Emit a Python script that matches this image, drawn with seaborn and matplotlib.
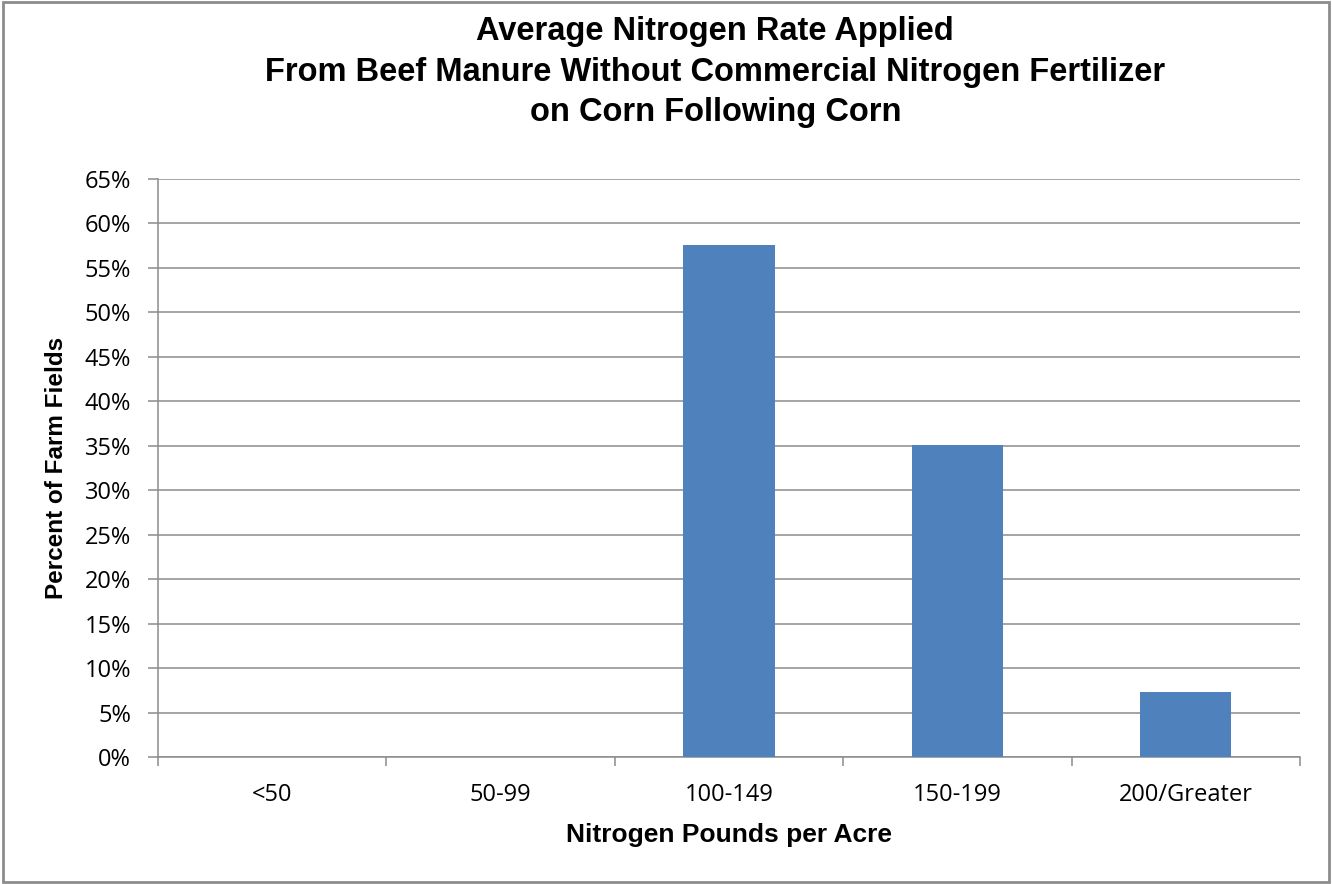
import numpy as np
import pandas as pd
import matplotlib
matplotlib.use("Agg")
import matplotlib.pyplot as plt
from matplotlib.ticker import PercentFormatter, FixedLocator
import seaborn as sns

# data
categories = ['<50', '50-99', '100-149', '150-199', '200/Greater']
percent_fields = [0.0, 0.0, 57.6, 35.1, 7.3]

df = pd.DataFrame({'rate': categories, 'pct': percent_fields})

sns.set_style('white')
plt.rcParams['font.family'] = ['Liberation Sans', 'DejaVu Sans']
plt.rcParams['text.color'] = 'black'
plt.rcParams['axes.labelcolor'] = 'black'
plt.rcParams['xtick.color'] = 'black'
plt.rcParams['ytick.color'] = 'black'

fig = plt.figure(figsize=(13.32, 8.84), dpi=100)
ax = fig.add_axes([158 / 1332, 1 - 757 / 884, 1142 / 1332, 578 / 884])

sns.barplot(data=df, x='rate', y='pct', color='#4F81BD', saturation=1,
            width=0.4, linewidth=0, edgecolor='none', ax=ax, zorder=3)

ax.set_ylim(0, 65)
ax.set_xlim(-0.5, 4.5)
ax.set_yticks(np.arange(0, 66, 5))
ax.yaxis.set_major_formatter(PercentFormatter(decimals=0))
ax.yaxis.grid(True, color='#8c8c8c', linewidth=1.1, zorder=0)
ax.set_axisbelow(True)

for s in ['top', 'right']:
    ax.spines[s].set_visible(False)
for s in ['bottom', 'left']:
    ax.spines[s].set_visible(True)
    ax.spines[s].set_color('#8c8c8c')
    ax.spines[s].set_linewidth(1.1)

# tick marks between categories on x, short outward marks on y
ax.xaxis.set_minor_locator(FixedLocator(np.arange(-0.5, 5, 1)))
ax.tick_params(axis='x', which='major', bottom=True, length=0, pad=19, labelsize=17)
ax.tick_params(axis='x', which='minor', bottom=True, length=6.5, color='#8c8c8c',
               width=1.1, direction='out')
ax.tick_params(axis='y', left=True, length=7, color='#8c8c8c', width=1.1,
               direction='out', labelsize=17, pad=12.5)
for lbl in ax.get_xticklabels() + ax.get_yticklabels():
    lbl.set_family(['Open Sans', 'DejaVu Sans'])
    lbl.set_color('black')

ax.set_xlabel('Nitrogen Pounds per Acre', fontsize=19, fontweight='bold', labelpad=11)
ax.set_ylabel('Percent of Farm Fields', fontsize=17.5, fontweight='bold', labelpad=12)

fig.text(0.537, 0.982,
         'Average Nitrogen Rate Applied\n'
         'From Beef Manure Without Commercial Nitrogen Fertilizer\n'
         'on Corn Following Corn',
         ha='center', va='top', fontsize=23.5, fontweight='bold', linespacing=1.4)

# outer chart border
fig.patches.append(plt.Rectangle((0.002, 0.002), 0.996, 0.996, transform=fig.transFigure,
                                 fill=False, edgecolor='#8c8c8c', linewidth=2))

fig.savefig('out.png', dpi=100)
